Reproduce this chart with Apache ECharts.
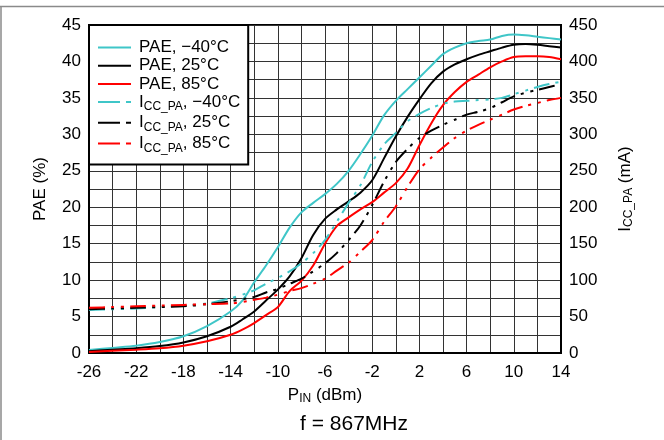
<!DOCTYPE html>
<html>
<head>
<meta charset="utf-8">
<script src="https://cdn.jsdelivr.net/npm/echarts@6/dist/echarts.min.js"></script>
<style>
  html, body { margin: 0; padding: 0; background: #fff; }
  #chart { width: 664px; height: 440px; }
</style>
</head>
<body>
<div id="chart"></div>
<script>
// Input power sweep (dBm)
const pinDbm = [-26, -24, -22, -20, -18, -16, -14, -13, -12, -11, -10, -9, -8, -7, -6, -5, -4, -3, -2, -1,
                0, 1, 2, 3, 4, 5, 6, 7, 8, 9, 10, 11, 12, 13, 14];

// Power-added efficiency (%)
const paeCold = [0.4, 0.7, 1.0, 1.5, 2.3, 3.7, 5.7, 7.2, 9.7, 12.0, 14.5, 17.2, 19.3, 20.6, 21.8, 23.2, 25.0, 27.3, 29.8, 32.6,
                 34.6, 36.2, 37.8, 39.4, 41.0, 41.9, 42.5, 42.8, 43.0, 43.5, 43.7, 43.6, 43.4, 43.2, 43.0];
const paeRoom = [0.25, 0.45, 0.65, 0.95, 1.45, 2.3, 3.6, 4.6, 5.7, 7.2, 8.7, 10.5, 13.0, 16.2, 18.4, 19.7, 20.8, 22.0, 23.7, 26.7,
                 29.7, 32.4, 34.8, 37.0, 38.6, 39.6, 40.3, 40.9, 41.4, 41.9, 42.3, 42.4, 42.3, 42.1, 41.9];
const paeHot  = [0.15, 0.3, 0.45, 0.65, 1.0, 1.6, 2.5, 3.2, 4.1, 5.2, 6.3, 8.5, 9.9, 12.0, 15.0, 17.4, 18.6, 19.7, 20.7, 22.0,
                 23.3, 25.3, 28.5, 31.5, 34.0, 35.8, 37.2, 38.2, 39.2, 40.0, 40.6, 40.7, 40.7, 40.6, 40.3];

// PA supply current (mA)
const iccCold = [59, 60, 61, 63, 65, 68, 75, 80, 86, 95, 103, 112, 123, 137, 155, 180, 206, 230, 262, 286,
                 302, 318, 328, 336, 342, 345, 346, 347, 348, 350, 355, 360, 365, 369, 372];
const iccRoom = [60, 61, 62, 63, 64, 67, 71, 74, 77, 83, 88, 95, 102, 112, 123, 137, 155, 175, 203, 235,
                 262, 280, 295, 305, 313, 320, 327, 331, 336, 344, 352, 357, 361, 365, 369];
const iccHot  = [62, 63, 64, 65, 66, 67, 68, 70, 73, 76, 80, 85, 89, 95, 102, 113, 124, 139, 155, 180,
                 201, 228, 252, 268, 282, 295, 305, 313, 320, 327, 334, 339, 343, 347, 350];

const seriesNames = ['PAE, \u221240\u00b0C', 'PAE, 25\u00b0C', 'PAE, 85\u00b0C',
                     'ICC_PA, \u221240\u00b0C', 'ICC_PA, 25\u00b0C', 'ICC_PA, 85\u00b0C'];

const CYAN = '#3fc6c8', BLACK = '#000000', RED = '#ff0000';
const FONT = '"Liberation Sans", Arial, sans-serif';
const DASH = [16, 6, 3, 7, 3, 6];

const pairs = arr => pinDbm.map((p, i) => [p, arr[i]]);

function solid(name, color, values) {
  return {
    name, type: 'line', yAxisIndex: 0, data: pairs(values),
    symbol: 'none', smooth: 0.3,
    lineStyle: { color, width: 2 }, itemStyle: { color }
  };
}
function dashed(name, color, values) {
  return {
    name, type: 'line', yAxisIndex: 1, data: pairs(values),
    symbol: 'none', smooth: 0.3,
    lineStyle: { color, width: 2, type: DASH }, itemStyle: { color }
  };
}

const chart = echarts.init(document.getElementById('chart'), null, { renderer: 'canvas' });

chart.setOption({
  animation: false,
  backgroundColor: '#ffffff',
  textStyle: { fontFamily: FONT, color: '#000' },
  grid: {
    left: 89, right: 103, top: 25, bottom: 87,
    show: true, borderColor: '#000', borderWidth: 2, backgroundColor: 'transparent',
    containLabel: false, outerBoundsMode: 'none'
  },
  legend: {
    orient: 'vertical', left: 89, top: 25,
    padding: [14, 8, 10, 8],
    itemGap: 1.2, itemWidth: 33, itemHeight: 14,
    backgroundColor: '#fff', borderColor: '#000', borderWidth: 2, borderRadius: 0,
    itemStyle: { opacity: 0 },
    data: seriesNames.map((n, i) => i < 3 ? { name: n } : { name: n, lineStyle: { type: [22, 6, 5, 12] } }),
    formatter: n => n.startsWith('ICC_PA')
      ? '{m|I}{s|CC_PA}{m|' + n.slice(6) + '}'
      : '{m|' + n + '}',
    textStyle: {
      fontFamily: FONT, fontSize: 17, color: '#000', padding: [0, 0, 0, 3],
      rich: {
        m: { fontFamily: FONT, fontSize: 17, lineHeight: 18, color: '#000' },
        s: { fontFamily: FONT, fontSize: 12, lineHeight: 12, verticalAlign: 'bottom', padding: [6, 0, -2, 0], color: '#000' }
      }
    }
  },
  xAxis: {
    type: 'value', min: -26, max: 14, interval: 2,
    name: 'P{s|IN} (dBm)', nameLocation: 'middle', nameGap: 32,
    nameTextStyle: {
      fontFamily: FONT, fontSize: 17, color: '#000',
      rich: { s: { fontFamily: FONT, fontSize: 12, color: '#000', padding: [8, 0, 0, 0] } }
    },
    axisLine: { show: true, onZero: false, lineStyle: { color: '#000', width: 2 } },
    axisTick: { show: false },
    axisLabel: {
      fontFamily: FONT, fontSize: 17, color: '#000', margin: 11,
      formatter: v => ((v + 26) % 4 === 0 ? String(v) : '')
    },
    splitLine: { show: true, lineStyle: { color: '#333', width: 1 } }
  },
  yAxis: [
    {
      type: 'value', min: 0, max: 45, interval: 2.5, position: 'left',
      name: 'PAE (%)', nameLocation: 'middle', nameGap: 40, nameRotate: 90,
      nameTextStyle: { fontFamily: FONT, fontSize: 17, color: '#000' },
      axisLine: { show: true, onZero: false, lineStyle: { color: '#000', width: 2 } },
      axisTick: { show: false },
      axisLabel: {
        fontFamily: FONT, fontSize: 17, color: '#000', margin: 8,
        formatter: v => (v % 5 === 0 ? String(v) : '')
      },
      splitLine: { show: true, lineStyle: { color: '#333', width: 1 } }
    },
    {
      type: 'value', min: 0, max: 450, interval: 25, position: 'right',
      name: 'I{s|CC_PA} (mA)', nameLocation: 'middle', nameGap: 54, nameRotate: 90,
      nameTextStyle: {
        fontFamily: FONT, fontSize: 17, color: '#000',
        rich: { s: { fontFamily: FONT, fontSize: 12, color: '#000', padding: [8, 0, 0, 0] } }
      },
      axisLine: { show: true, onZero: false, lineStyle: { color: '#000', width: 2 } },
      axisTick: { show: false },
      axisLabel: {
        fontFamily: FONT, fontSize: 17, color: '#000', margin: 8,
        formatter: v => (v % 50 === 0 ? String(v) : '')
      },
      splitLine: { show: false }
    }
  ],
  series: [
    solid(seriesNames[0], CYAN, paeCold),
    solid(seriesNames[1], BLACK, paeRoom),
    solid(seriesNames[2], RED, paeHot),
    dashed(seriesNames[3], CYAN, iccCold),
    dashed(seriesNames[4], BLACK, iccRoom),
    dashed(seriesNames[5], RED, iccHot)
  ],
  graphic: [
    { type: 'line', shape: { x1: 0, y1: 6.5, x2: 664, y2: 6.5 }, style: { stroke: '#8a8a8a', lineWidth: 1.5 }, silent: true },
    { type: 'line', shape: { x1: 1, y1: 6.5, x2: 1, y2: 440 }, style: { stroke: '#8a8a8a', lineWidth: 1.5 }, silent: true },
    {
      type: 'text', left: 300, top: 414, silent: true,
      style: { text: 'f = 867MHz', fontFamily: FONT, fontSize: 21, fill: '#000' }
    }
  ]
});
</script>
</body>
</html>
